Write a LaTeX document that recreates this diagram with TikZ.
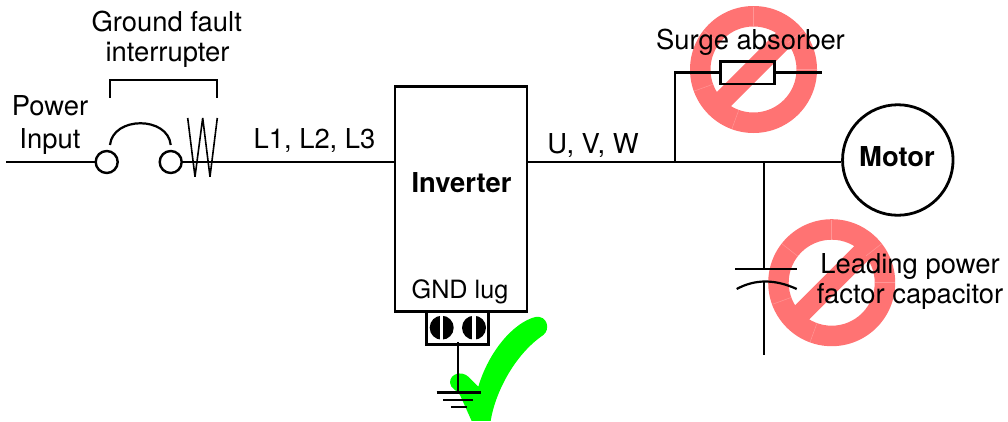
\documentclass[tikz,border=0pt]{standalone}
\usepackage{fontspec}
\setmainfont{TeX Gyre Heros}
\definecolor{nored}{RGB}{255,115,115}
\definecolor{noseam}{RGB}{255,150,150}
\definecolor{okgreen}{RGB}{0,255,0}
\tikzset{
  wire/.style={line width=2.8pt,line cap=butt},
  thinwire/.style={line width=2.2pt},
  lbl/.style={anchor=base,inner sep=0pt,font=\fontsize{27.4}{31}\selectfont},
  boldlbl/.style={lbl,font=\fontsize{27.4}{31}\selectfont\bfseries},
  smalllbl/.style={lbl,font=\fontsize{25.2}{30}\selectfont},
  term/.style={circle,draw,line width=2.4pt,fill=white,minimum size=22pt,inner sep=0pt},
  boxnode/.style={rectangle,draw,line width=2.8pt,inner sep=0pt,outer sep=0pt},
  lug/.style={circle,fill=black,minimum size=24pt,inner sep=0pt}
}
\newcommand{\nosign}[2]{%
  \begin{scope}[shift={(#1,#2)}]
    \fill[nored,even odd rule] (0,0) circle[radius=63.5pt] (0,0) circle[radius=43pt];
    \fill[nored,rotate=45] (-50pt,-10pt) rectangle (50pt,10pt);
    \foreach \a in {0,-110,-160,-218,-270,-322}
      \draw[noseam,line width=.5pt] (\a:43.5pt) -- (\a:63pt);
  \end{scope}}
\begin{document}
\begin{tikzpicture}[x=1pt,y=-1pt]
\useasboundingbox (0,0) rectangle (1008,421);
% prohibition signs and the check mark lie under the drawing
\nosign{753.5}{69.5}
\nosign{831.7}{282.7}
\begin{scope}[shift={(390,260)},x=.3333pt,y=-.3333pt]
  \fill[okgreen] (245,483) -- (302,483) .. controls (315,400) and (372,285) .. (460,225)
    .. controls (482,208) and (472,165) .. (436,171)
    .. controls (370,188) and (296,275) .. (265,380)
    -- (235,350) .. controls (215,332) and (180,340) .. (180,368)
    .. controls (181,385) and (200,390) .. (210,405) -- cycle;
\end{scope}
% nodes
\coordinate (in) at (6,162);
\node[term] (s1) at (106.7,162) {};
\node[term] (s2) at (170.7,162) {};
\node[boxnode,minimum width=132pt,minimum height=225pt] (inv) at (461,199) {};
\node[boxnode,minimum width=62.5pt,minimum height=33.5pt,anchor=north] (lugbox) at (457.5,311) {};
\node[circle,draw,line width=2.8pt,minimum size=110.5pt,inner sep=0pt] (motor) at (897.8,160) {};
\node[boxnode,minimum width=53.5pt,minimum height=22.5pt] (absorber) at (747.5,72.8) {};
\node[lug] (lug1) at (441.7,327.7) {};
\node[lug] (lug2) at (474,327.7) {};
\fill[white] (440,315) rectangle (443.4,340);
\fill[white] (472.3,315) rectangle (475.7,340);
\coordinate (j1) at (675,162);
\coordinate (j2) at (764,162);
\coordinate (abscorner) at (675,72.8);
\coordinate (absend) at (821.7,72.8);
\coordinate (capt) at (764,269);
\coordinate (capb) at (764,281.7);
\coordinate (capend) at (764,355);
\coordinate (pl) at (735,269);
\coordinate (pr) at (796.7,269);
\coordinate (cl) at (736.7,289);
\coordinate (cr) at (796.7,289);
\coordinate (gt) at (458,342);
\coordinate (gb) at (458,392.7);
\coordinate (g1l) at (436.7,392.7); \coordinate (g1r) at (480.7,392.7);
\coordinate (g2l) at (443.3,400);   \coordinate (g2r) at (473.3,400);
\coordinate (g3l) at (451,406.7);   \coordinate (g3r) at (466.7,406.7);
\coordinate (ba) at (110,97.7); \coordinate (bb) at (110,80); \coordinate (bc) at (217,80); \coordinate (bd) at (217,97.7);
\coordinate (al) at (110,145); \coordinate (ar) at (170.7,145);
% wires
\draw[wire] (in) -- (s1.west);
\draw[wire] (s2.east) -- (inv.west |- s2);
\draw[wire] (inv.east |- s2) -- (motor.west |- s2);
\draw[wire] (j1) -- (abscorner) -- (absorber.west |- abscorner);
\draw[wire] (absorber.east |- absend) -- (absend);
\draw[wire] (j2) -- (capt);
\draw[wire] (capb) -- (capend);
\draw[wire] (pl) -- (pr);
\draw[thinwire] (cl) .. controls (755,279) and (775,279) .. (cr);
\draw[thinwire] (al) .. controls (113,116) and (168,116) .. (ar);
\draw[thinwire] (ba) -- (bb) -- (bc) -- (bd);
\draw[line width=1.6pt,line join=bevel] (187.7,118) -- (195,176.7) -- (202.7,118) -- (210,176.7) -- (217.3,118);
\draw[line width=2.4pt] (gt) -- (gb);
\draw[wire] (g1l) -- (g1r);
\draw[line width=2.4pt] (g2l) -- (g2r);
\draw[line width=2.4pt] (g3l) -- (g3r);
% labels
\node[lbl] (t1) at (166.7,31) {Ground fault};
\node[lbl] (t2) at (167.5,61.7) {interrupter};
\node[lbl] (t3) at (50,115) {Power};
\node[lbl] (t4) at (50,148) {Input};
\node[lbl] (t5) at (314.5,148) {L1, L2, L3};
\node[lbl] (t6) at (593,153) {U, V, W};
\node[boldlbl] (t7) at (461.5,192) {Inverter};
\node[smalllbl] (t8) at (460,298) {GND lug};
\node[lbl] (t9) at (750.5,49) {Surge absorber};
\node[boldlbl] (t10) at (897,166) {Motor};
\node[lbl] (t11) at (910,273) {Leading power};
\node[lbl] (t12) at (910,303) {factor capacitor};
\end{tikzpicture}
\end{document}
